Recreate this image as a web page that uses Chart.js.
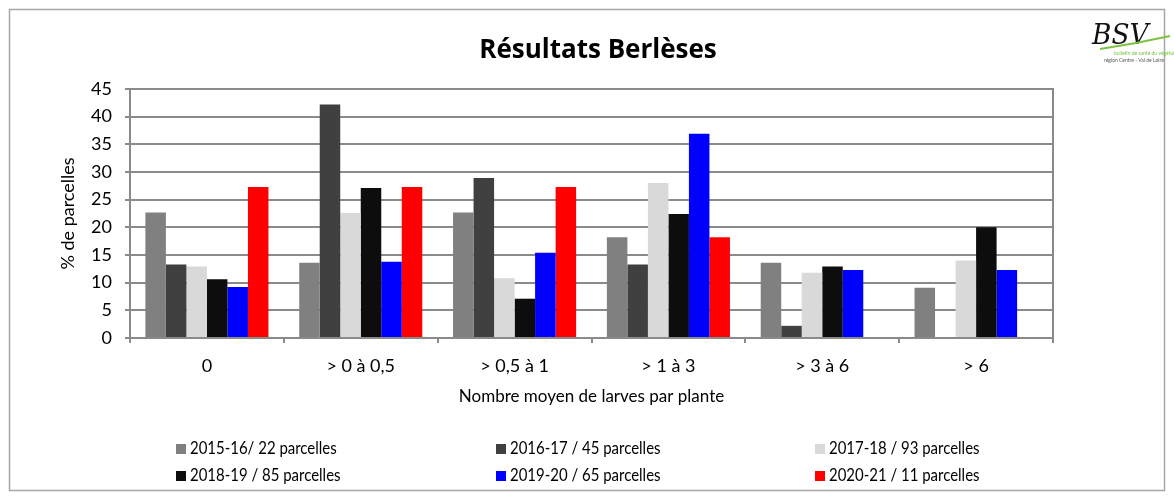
<!DOCTYPE html>
<html>
<head>
<meta charset="utf-8">
<script src="https://cdn.jsdelivr.net/npm/chart.js@4.4.0/dist/chart.umd.min.js"></script>
<style>
  html, body { margin: 0; padding: 0; background: #fff; }
  #wrap { width: 1174px; height: 497px; }
</style>
</head>
<body>
<div id="wrap"><canvas id="chart" width="1174" height="497"></canvas></div>
<script>
// Categories and series (% of plots)
const categories = ['0', '> 0 à 0,5', '> 0,5 à 1', '> 1 à 3', '> 3 à 6', '> 6'];
const s2015 = [22.7, 13.6, 22.7, 18.2, 13.6, 9.1];
const s2016 = [13.3, 42.2, 28.9, 13.3, 2.2, 0];
const s2017 = [12.9, 22.6, 10.8, 28.0, 11.8, 14.0];
const s2018 = [10.6, 27.1, 7.1, 22.4, 12.9, 20.0];
const s2019 = [9.2, 13.8, 15.4, 36.9, 12.3, 12.3];
const s2020 = [27.3, 27.3, 27.3, 18.2, 0, 0];
const seriesNames = ['2015-16/ 22 parcelles', '2016-17 / 45 parcelles', '2017-18 / 93 parcelles',
                     '2018-19 / 85 parcelles', '2019-20 / 65 parcelles', '2020-21 / 11 parcelles'];
const yTicks = [0, 5, 10, 15, 20, 25, 30, 35, 40, 45];

const FONT = 'Lato, "Liberation Sans", sans-serif';
const colors = ['#808080', '#404040', '#d9d9d9', '#0d0d0d', '#0000ff', '#ff0000'];
const gridColor = '#8a8a8a';

// Frame, title, plot border, logo and the 3-column legend
const decorPlugin = {
    id: 'decor',
    beforeDraw(chart) {
        const ctx = chart.ctx;
        ctx.save();
        ctx.fillStyle = '#fff';
        ctx.fillRect(0, 0, chart.width, chart.height);
        ctx.strokeStyle = '#a6a6a6';
        ctx.lineWidth = 1.5;
        ctx.strokeRect(9.5, 9.5, 1155, 481);
        ctx.restore();
    },
    afterDraw(chart) {
        const ctx = chart.ctx;
        const area = chart.chartArea;
        ctx.save();
        // plot area border (top + right)
        ctx.strokeStyle = gridColor;
        ctx.lineWidth = 2;
        ctx.beginPath();
        ctx.moveTo(area.left, area.top);
        ctx.lineTo(area.right, area.top);
        ctx.lineTo(area.right, area.bottom);
        ctx.stroke();

        // title
        ctx.fillStyle = '#000';
        ctx.font = 'bold 26px "Open Sans", sans-serif';
        ctx.textAlign = 'center';
        ctx.textBaseline = 'middle';
        ctx.fillText('Résultats Berlèses', 598, 51);

        // logo (small BSV mark, top right)
        ctx.save();
        ctx.translate(1092, 44);
        ctx.scale(1.1, 1.2);
        ctx.font = 'italic 24px "DejaVu Serif", serif';
        ctx.textAlign = 'left';
        ctx.textBaseline = 'alphabetic';
        ctx.fillStyle = '#111';
        ctx.fillText('BSV', 0, 0);
        ctx.restore();
        ctx.strokeStyle = '#7dc242';
        ctx.lineWidth = 2;
        ctx.beginPath();
        ctx.moveTo(1100, 49);
        ctx.quadraticCurveTo(1135, 44, 1170, 36);
        ctx.stroke();
        ctx.font = '5px ' + FONT;
        ctx.textAlign = 'left';
        ctx.fillStyle = '#7dc242';
        ctx.fillText('bulletin de santé du végétal', 1114, 53);
        ctx.fillStyle = '#555';
        ctx.fillText('région Centre - Val de Loire', 1104, 60);

        // legend
        const colX = [176, 496, 815];
        const rowY = [449, 476];
        ctx.font = '17px ' + FONT;
        ctx.textBaseline = 'middle';
        chart.data.datasets.forEach((ds, i) => {
            const x = colX[i % 3];
            const y = rowY[Math.floor(i / 3)];
            ctx.fillStyle = ds.backgroundColor;
            ctx.fillRect(x, y - 5, 10, 10);
            ctx.fillStyle = '#000';
            ctx.save();
            ctx.translate(x + 14, y);
            ctx.scale(0.88, 1);
            ctx.fillText(ds.label, 0, 0);
            ctx.restore();
        });
        ctx.restore();
    }
};

const seriesData = [s2015, s2016, s2017, s2018, s2019, s2020];

new Chart(document.getElementById('chart'), {
    type: 'bar',
    data: {
        labels: categories,
        datasets: seriesData.map((d, i) => ({
            label: seriesNames[i],
            data: d,
            backgroundColor: colors[i],
            borderWidth: 0,
            categoryPercentage: 0.8,
            barPercentage: 1.0
        }))
    },
    options: {
        responsive: false,
        animation: false,
        layout: { padding: { top: 89, right: 121, left: 0, bottom: 84 } },
        plugins: {
            legend: { display: false },
            title: { display: false },
            tooltip: { enabled: false }
        },
        scales: {
            x: {
                afterFit: (scale) => { scale.height = 75; },
                grid: { drawOnChartArea: false, drawTicks: true, tickLength: 5, color: gridColor, lineWidth: 2 },
                border: { display: true, color: gridColor, width: 2 },
                ticks: { color: '#000', font: { family: FONT, size: 18 }, padding: 12 },
                title: {
                    display: true,
                    text: 'Nombre moyen de larves par plante',
                    color: '#000',
                    font: { family: FONT, size: 17 },
                    padding: { top: 0, bottom: 5.8 }
                }
            },
            y: {
                min: 0,
                max: 45,
                afterFit: (scale) => { scale.width = 130; },
                afterBuildTicks: (scale) => { scale.ticks = yTicks.map(v => ({ value: v })); },
                grid: { drawTicks: true, tickLength: 5, color: gridColor, lineWidth: 2 },
                border: { display: true, color: gridColor, width: 2 },
                ticks: { color: '#000', font: { family: FONT, size: 18 }, padding: 13 },
                title: {
                    display: true,
                    text: '% de parcelles',
                    color: '#000',
                    font: { family: FONT, size: 18 },
                    padding: { top: 57.2, bottom: 0 }
                }
            }
        }
    },
    plugins: [decorPlugin]
});
</script>
</body>
</html>
